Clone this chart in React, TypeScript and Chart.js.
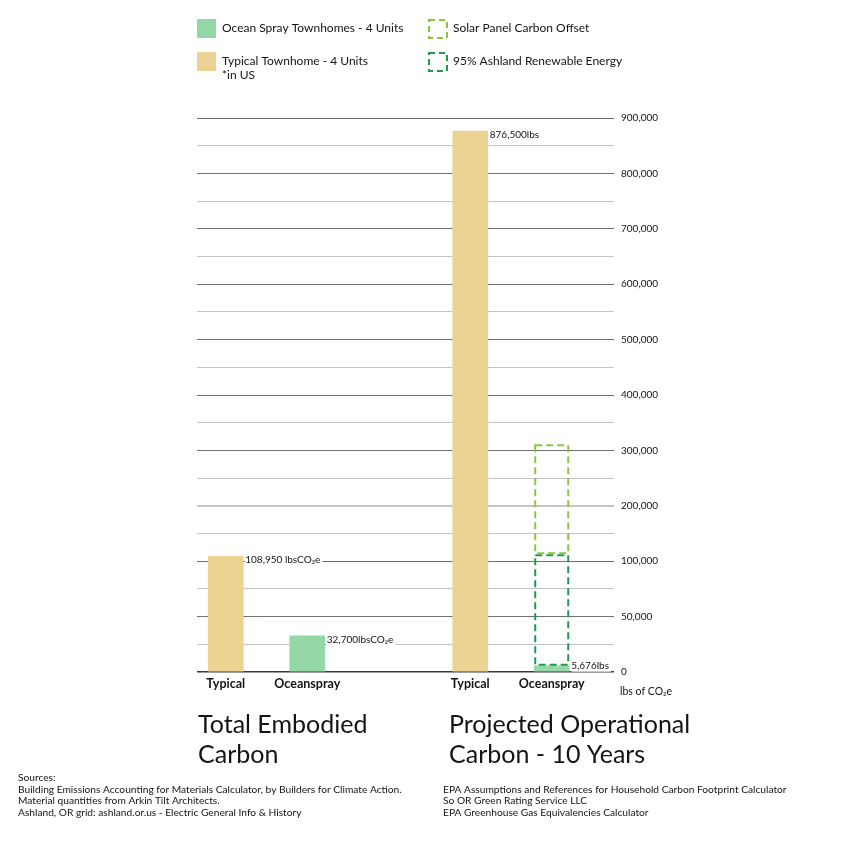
import React, { useEffect, useRef } from 'react';
import { Chart, LinearScale, registerables } from 'chart.js';

// ---------- data ----------
const barLabels = ['Typical', 'Oceanspray'];
const groupTitles = [
  ['Total Embodied', 'Carbon'],
  ['Projected Operational', 'Carbon - 10 Years'],
];
const typicalValues = [108950, 876500];
const oceansprayValues = [32700, 5676];
const typicalValueLabels = ['108,950 lbsCO\u2082e', '876,500lbs'];
const oceansprayValueLabels = ['32,700lbsCO\u2082e', '5,676lbs'];
const ashlandRenewableRange = [5676, 112500];
const solarOffsetRange = [112500, 311000];
const yTickValues = [0, 50000, 100000, 200000, 300000, 400000, 500000, 600000, 700000, 800000, 900000];
const yAxisUnit = 'lbs of CO\u2082e';
const legendLeft = [
  { label: ['Ocean Spray Townhomes - 4 Units'], kind: 'ocean' },
  { label: ['Typical Townhome - 4 Units', '*in US'], kind: 'typical' },
];
const legendRight = [
  { label: ['Solar Panel Carbon Offset'], kind: 'solar' },
  { label: ['95% Ashland Renewable Energy'], kind: 'ashland' },
];
const sourcesLeft = [
  'Sources:',
  'Building Emissions Accounting for Materials Calculator, by Builders for Climate Action.',
  'Material quantities from Arkin Tilt Architects.',
  'Ashland, OR grid: ashland.or.us - Electric General Info & History',
];
const sourcesRight = [
  'EPA Assumptions and References for Household Carbon Footprint Calculator',
  'So OR Green Rating Service LLC',
  'EPA Greenhouse Gas Equivalencies Calculator',
];

// ---------- styles ----------
const COLORS = {
  typical: '#EDD393',
  ocean: '#93D8A6',
  solar: '#8CC63F',
  ashland: '#1E9A4C',
  text: '#141414',
};
const FONT = 'Lato, "Open Sans", sans-serif';
const TITLE_X = [198, 449];

// group g, item i -> index position on the x axis (one empty slot between groups)
const slot = (g: number, i: number) => g * (barLabels.length + 1) + i;
const xPositions = groupTitles.flatMap((_, g) => barLabels.map((__, i) => slot(g, i)));

// gridlines: every tick plus the midpoint between ticks
const gridValues: number[] = [];
yTickValues.forEach((v, i) => {
  gridValues.push(v);
  if (i < yTickValues.length - 1) gridValues.push((v + yTickValues[i + 1]) / 2);
});

function toUnit(v: number) {
  for (let i = 0; i < yTickValues.length - 1; i++) {
    if (v <= yTickValues[i + 1]) {
      return i + (v - yTickValues[i]) / (yTickValues[i + 1] - yTickValues[i]);
    }
  }
  return yTickValues.length - 1;
}
function fromUnit(u: number) {
  const i = Math.max(0, Math.min(yTickValues.length - 2, Math.floor(u)));
  return yTickValues[i] + (u - i) * (yTickValues[i + 1] - yTickValues[i]);
}

// Scale where every labelled tick interval takes the same height
class SteppedScale extends LinearScale {
  static id = 'stepped';
  static defaults = LinearScale.defaults;
  determineDataLimits() {
    this.min = yTickValues[0];
    this.max = yTickValues[yTickValues.length - 1];
  }
  buildTicks() {
    return gridValues.map((value) => ({ value }));
  }
  getPixelForValue(value: number) {
    return this.getPixelForDecimal(toUnit(value) / (yTickValues.length - 1));
  }
  getValueForPixel(pixel: number) {
    return fromUnit(this.getDecimalForPixel(pixel) * (yTickValues.length - 1));
  }
}

Chart.register(...registerables, SteppedScale);

const fmt = (v: number) => String(v).replace(/\B(?=(\d{3})+(?!\d))/g, ',');

const dashedBoxes = {
  id: 'dashedBoxes',
  afterDatasetsDraw(chart: any) {
    const ctx = chart.ctx;
    chart.data.datasets.forEach((ds: any, di: number) => {
      if (!ds.dashColor) return;
      const meta = chart.getDatasetMeta(di);
      meta.data.forEach((el: any) => {
        const top = Math.min(el.y, el.base);
        const h = Math.abs(el.base - el.y);
        ctx.save();
        ctx.strokeStyle = ds.dashColor;
        ctx.lineWidth = 2;
        ctx.setLineDash([7, 4]);
        ctx.strokeRect(el.x - el.width / 2 + 1, top + 1, el.width - 2, h - 2);
        ctx.restore();
      });
    });
  },
};

const valueLabels = {
  id: 'valueLabels',
  afterDatasetsDraw(chart: any) {
    const ctx = chart.ctx;
    chart.data.datasets.forEach((ds: any, di: number) => {
      if (!ds.valueLabels) return;
      const meta = chart.getDatasetMeta(di);
      meta.data.forEach((el: any, i: number) => {
        const text = ds.valueLabels[i];
        ctx.save();
        ctx.font = `10px ${FONT}`;
        const w = ctx.measureText(text).width;
        const x = el.x + el.width / 2 + 2;
        const h = Math.abs(el.base - el.y);
        const y = h < 20 ? el.y : el.y + 4;
        ctx.fillStyle = '#ffffff';
        ctx.fillRect(x, y - 6, w + 2, 12);
        ctx.fillStyle = COLORS.text;
        ctx.textBaseline = 'middle';
        ctx.fillText(text, x, y);
        ctx.restore();
      });
    });
  },
};

const decorations = {
  id: 'decorations',
  afterDraw(chart: any) {
    const ctx = chart.ctx;
    const area = chart.chartArea;
    ctx.save();
    ctx.fillStyle = COLORS.text;

    // legend
    const drawSwatch = (kind: string, x: number, y: number) => {
      if (kind === 'ocean' || kind === 'typical') {
        ctx.fillStyle = COLORS[kind as 'ocean' | 'typical'];
        ctx.fillRect(x, y, 19, 19);
      } else {
        ctx.save();
        ctx.strokeStyle = COLORS[kind as 'solar' | 'ashland'];
        ctx.lineWidth = 2;
        ctx.setLineDash([6, 4]);
        ctx.strokeRect(x + 1, y + 1, 18, 18);
        ctx.restore();
      }
    };
    const drawLegendCol = (items: any[], x: number) => {
      items.forEach((it, r) => {
        const y = 19 + r * 33;
        drawSwatch(it.kind, x, y);
        ctx.fillStyle = COLORS.text;
        ctx.font = `12px ${FONT}`;
        ctx.textBaseline = 'middle';
        it.label.forEach((line: string, li: number) => {
          ctx.fillText(line, x + 25, y + 9 + li * 14);
        });
      });
    };
    drawLegendCol(legendLeft, 197);
    drawLegendCol(legendRight, 428);

    // axis unit
    ctx.fillStyle = COLORS.text;
    ctx.font = `10.5px ${FONT}`;
    ctx.textBaseline = 'middle';
    ctx.fillText(yAxisUnit, area.right + 6, area.bottom + 20);

    // group titles
    ctx.font = `25px ${FONT}`;
    ctx.textBaseline = 'alphabetic';
    groupTitles.forEach((lines, g) => {
      lines.forEach((line, li) => ctx.fillText(line, TITLE_X[g], 733 + li * 30));
    });

    // sources
    ctx.font = `10.2px ${FONT}`;
    ctx.textBaseline = 'middle';
    sourcesLeft.forEach((line, i) => ctx.fillText(line, 18, 778 + i * 11.5));
    sourcesRight.forEach((line, i) => ctx.fillText(line, 443, 789.5 + i * 11.5));
    ctx.restore();
  },
};

export default function App() {
  const ref = useRef<HTMLCanvasElement>(null);
  useEffect(() => {
    if (!ref.current) return;
    const chart = new Chart(ref.current, {
      type: 'bar',
      data: {
        datasets: [
          {
            label: 'Typical Townhome - 4 Units',
            data: typicalValues.map((v, g) => ({ x: slot(g, 0), y: v })),
            backgroundColor: COLORS.typical,
            valueLabels: typicalValueLabels,
          } as any,
          {
            label: 'Ocean Spray Townhomes - 4 Units',
            data: oceansprayValues.map((v, g) => ({ x: slot(g, 1), y: v })),
            backgroundColor: COLORS.ocean,
            valueLabels: oceansprayValueLabels,
          } as any,
          {
            label: '95% Ashland Renewable Energy',
            data: [{ x: slot(1, 1), y: ashlandRenewableRange }],
            backgroundColor: 'rgba(0,0,0,0)',
            dashColor: COLORS.ashland,
          } as any,
          {
            label: 'Solar Panel Carbon Offset',
            data: [{ x: slot(1, 1), y: solarOffsetRange }],
            backgroundColor: 'rgba(0,0,0,0)',
            dashColor: COLORS.solar,
          } as any,
        ],
      },
      options: {
        responsive: false,
        animation: false,
        datasets: { bar: { grouped: false, barThickness: 35, borderWidth: 0 } as any },
        layout: { padding: { left: 197, top: 118, right: 172, bottom: 150 } },
        plugins: { legend: { display: false }, tooltip: { enabled: false } },
        scales: {
          x: {
            type: 'linear',
            offset: false,
            min: -0.353,
            max: 4.764,
            grid: { display: false, drawTicks: false },
            border: { display: false },
            afterBuildTicks: (axis: any) => {
              axis.ticks = xPositions.map((value) => ({ value }));
            },
            afterFit: (axis: any) => {
              axis.height = 24;
            },
            ticks: {
              autoSkip: false,
              maxRotation: 0,
              padding: 4,
              color: COLORS.text,
              font: { family: FONT, size: 12.5, weight: 'bold' },
              callback: (v: any) => barLabels[Number(v) % (barLabels.length + 1)] ?? '',
            },
          } as any,
          y: {
            type: 'stepped',
            position: 'right',
            border: { display: false },
            afterFit: (axis: any) => {
              axis.width = 60;
            },
            grid: {
              drawTicks: false,
              color: (c: any) => {
                const v = c.tick?.value;
                if (v === 0) return '#3a3a3a';
                if (v === 200000) return '#c4c4c4';
                return yTickValues.includes(v) ? '#707070' : '#c4c4c4';
              },
              lineWidth: (c: any) => {
                const v = c.tick?.value;
                if (v === 0) return 1.5;
                if (v === 200000) return 2;
                return 1;
              },
            },
            ticks: {
              autoSkip: false,
              padding: 7,
              color: COLORS.text,
              font: { family: FONT, size: 10 },
              callback: (v: any) => (yTickValues.includes(Number(v)) ? fmt(Number(v)) : ''),
            },
          } as any,
        },
      } as any,
      plugins: [dashedBoxes, valueLabels, decorations],
    });
    return () => chart.destroy();
  }, []);
  return (
    <div style={{ position: 'absolute', left: 0, top: 0, width: 846, height: 846, background: '#fff' }}>
      <canvas ref={ref} width={846} height={846} style={{ display: 'block' }} />
    </div>
  );
}
